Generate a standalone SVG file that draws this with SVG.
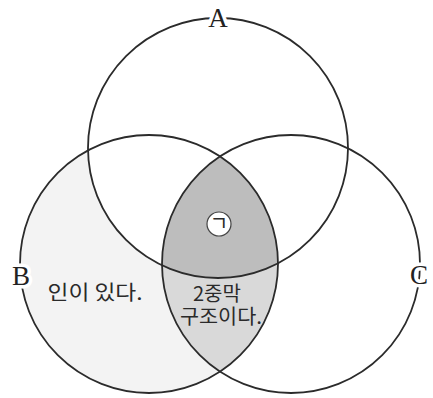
<svg xmlns="http://www.w3.org/2000/svg" width="433" height="398" viewBox="0 0 433 398">
<style>
.ring{fill:none;stroke:#2b2b2b;stroke-width:1.8}
.lbl{font-family:"Liberation Serif","DejaVu Serif",serif;font-size:27px;fill:#222;text-anchor:middle;stroke:#fff;stroke-width:7;paint-order:stroke;stroke-linejoin:round}
.kr{font-family:"Noto Sans CJK KR","Noto Sans",sans-serif;font-size:20px;fill:#2a2a2a;text-anchor:middle}
</style>
<defs>
<clipPath id="clipB"><circle cx="149" cy="264" r="129"/></clipPath>
<clipPath id="clipC"><circle cx="291" cy="264" r="129"/></clipPath>
</defs>
<rect width="433" height="398" fill="#fff"/>
<g id="regions">
<circle cx="149" cy="264" r="129" fill="#f3f3f3"/>
<circle cx="218" cy="148" r="130" fill="#fff"/>
<circle cx="291" cy="264" r="129" fill="#d9d9d9" clip-path="url(#clipB)"/>
<g clip-path="url(#clipB)"><circle cx="218" cy="148" r="130" fill="#bdbdbd" clip-path="url(#clipC)"/></g>
</g>
<g id="connectors"></g>
<g id="nodeA">
<circle class="ring" cx="218" cy="148" r="130"/>
<text class="lbl" x="218" y="27">A</text>
</g>
<g id="nodeB">
<circle class="ring" cx="149" cy="264" r="129"/>
<text class="lbl" x="21" y="285">B</text>
<text class="kr" x="95" y="300" textLength="95" lengthAdjust="spacingAndGlyphs">인이 있다.</text>
</g>
<g id="nodeC">
<circle class="ring" cx="291" cy="264" r="129"/>
<text class="lbl" x="419" y="284">C</text>
</g>
<g id="nodeBC">
<text class="kr" x="217" y="301" textLength="48" lengthAdjust="spacingAndGlyphs">2중막</text>
<text class="kr" x="221" y="324" textLength="82" lengthAdjust="spacingAndGlyphs">구조이다.</text>
</g>
<g id="nodeG">
<circle cx="219" cy="224" r="12" fill="#fff" stroke="#444" stroke-width="1.2"/>
<text class="kr" x="219" y="230.5" font-size="17">ㄱ</text>
</g>
</svg>
